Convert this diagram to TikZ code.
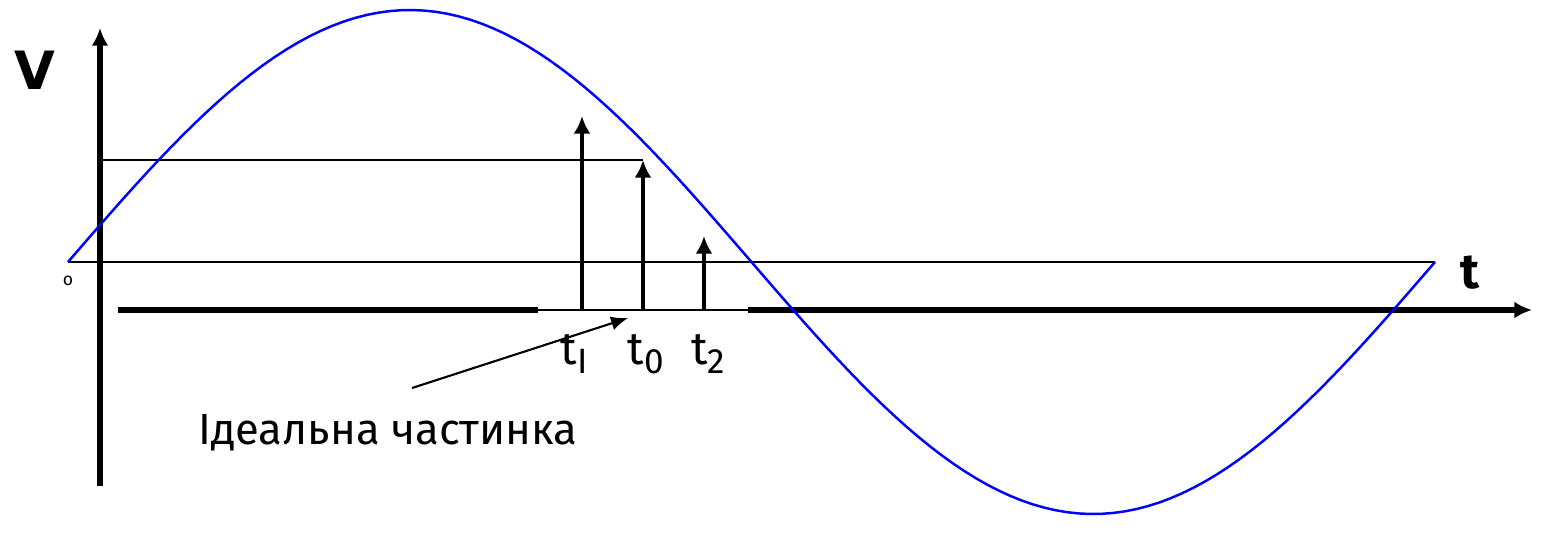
\documentclass[tikz,border=0pt]{standalone}
\usepackage{fontspec}
\setmainfont{Fira Sans}
\newfontfamily\wideface{DejaVu Sans}
\usetikzlibrary{arrows.meta}
\newcommand{\tsub}[1]{t\raisebox{-0.35ex}{\fontsize{10}{12}\selectfont #1}}

\begin{document}
\begin{tikzpicture}[x=0.01cm,y=-0.01cm,
  axisline/.style={line width=1.6pt,-{Latex[length=5pt,width=4.8pt]}},
  thinline/.style={line width=0.35pt},
  spike/.style={line width=1.4pt,-{Latex[length=5pt,width=4.8pt]}},
  tlabel/.style={font=\fontsize{13}{15}\selectfont}]
\useasboundingbox (0,0) rectangle (1542,532);

% axes
\coordinate (vbot) at (100,486);
\coordinate (vtop) at (100,28);
\coordinate (hleft) at (118,310);
\coordinate (gapa) at (538,310);
\coordinate (gapb) at (748,310);
\coordinate (hright) at (1532,310);
\draw[axisline] (vbot) -- (vtop);
\draw[line width=1.6pt] (hleft) -- (gapa);
\draw[thinline] (gapa) -- (gapb);
\draw[axisline] (gapb) -- (hright);

% zero level and the level at t0
\coordinate (zl) at (68,262);
\coordinate (zr) at (1435,262);
\coordinate (ll) at (100,160);
\coordinate (lr) at (643,160);
\draw[thinline] (zl) -- (zr);
\draw[thinline] (ll) -- (lr);

% the sine
\draw[blue,line width=0.7pt] plot[domain=0:360,samples=120] ({68+3.7972*\x},{262-252*sin(\x)});

% spikes
\coordinate (b1) at (582,310); \coordinate (p1) at (582,116);
\coordinate (b0) at (643,310); \coordinate (p0) at (643,160);
\coordinate (b2) at (704,310); \coordinate (p2) at (704,236);
\draw[spike] (b1) -- (p1);
\draw[spike] (b0) -- (p0);
\draw[spike] (b2) -- (p2);

% labels
\node[font=\fontsize{15}{18}\selectfont\wideface\bfseries] (vlab) at (35,70) {V};
\node[font=\fontsize{14}{16}\selectfont\bfseries] (tlab) at (1470,273) {t};
\node[font=\tiny] (olab) at (68,281) {o};
\node[tlabel] (t1) at (574,354) {\tsub{I}};
\node[tlabel] (t0) at (646,354) {\tsub{0}};
\node[tlabel] (t2) at (708,354) {\tsub{2}};

\node[font=\fontsize{12.4}{15}\selectfont,anchor=west] (ideal) at (186,433) {Ідеальна частинка};
\coordinate (ptail) at (412,388);
\draw[line width=0.6pt,-{Latex[length=4.8pt,width=4pt]}] (ptail) -- (628,318);

\end{tikzpicture}
\end{document}
